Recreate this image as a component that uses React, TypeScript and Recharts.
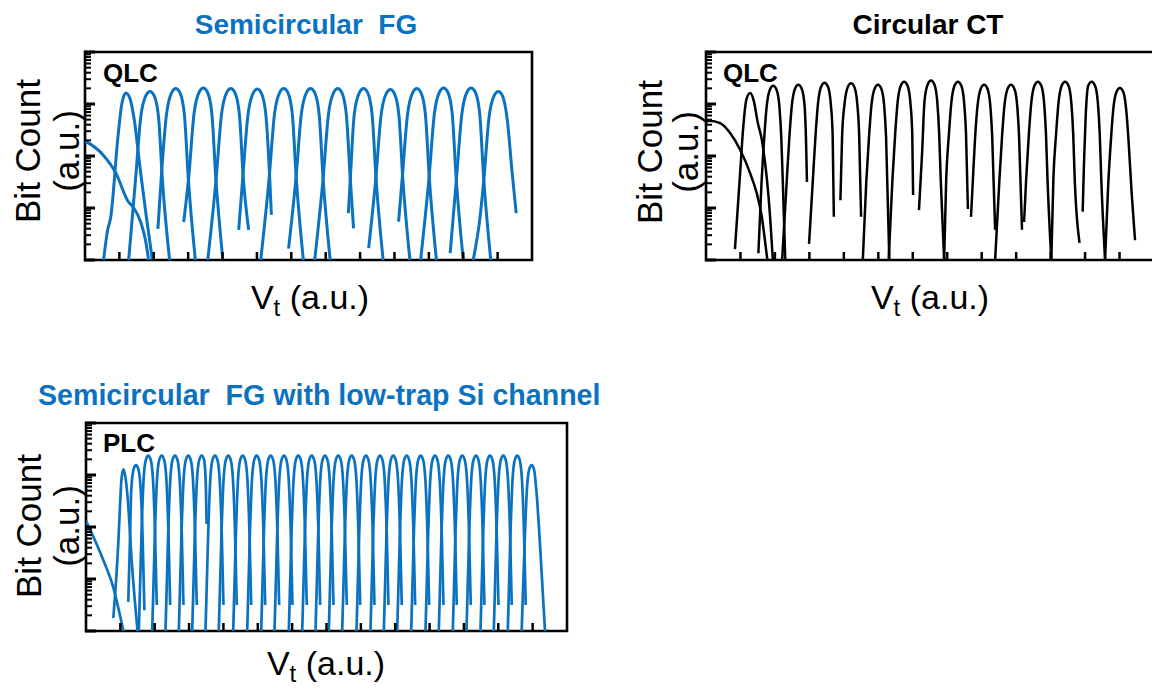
import { LineChart, Line, XAxis, YAxis, ReferenceArea } from 'recharts';

// [Vt in tick units, log10(bit count)]
type Pt = [number, number];

const X_TICKS_QLC = [1, 2, 3, 4, 5, 6, 7, 8, 9, 10, 11, 12];
const X_TICKS_PLC = [1, 2, 3, 4, 5, 6, 7, 8, 9, 10, 11, 12, 13];
const Y_TICKS = [
  1, 2, 3, 4, 5, 6, 7, 8, 9, 10, 20, 30, 40, 50, 60, 70, 80, 90, 100, 200, 300, 400, 500, 600, 700, 800, 900,
  1000, 2000, 3000, 4000, 5000, 6000, 7000, 8000, 9000, 10000,
];
const Y_MAJOR = [1, 10, 100, 1000, 10000];

// Semicircular FG, QLC
const FG_QLC_ERASE: Pt[] = [[0, 2.29], [0.5, 2.04], [0.9, 1.67], [1.25, 1.13], [1.4, 1.02], [1.62, 0.73], [1.76, 0.38], [1.85, 0]];
const FG_QLC_STATES: Pt[][] = [
  [[0.54, 0], [0.66, 0.58], [0.75, 0.83], [0.95, 2.31], [1.07, 3.0], [1.19, 3.21], [1.31, 3.1], [1.42, 2.75], [1.62, 1.67], [1.77, 0.9], [1.96, 0]],
  [[1.27, 0], [1.47, 1.55], [1.62, 2.74], [1.77, 3.16], [1.89, 3.24], [2.01, 3.16], [2.14, 2.74], [2.25, 1.55], [2.46, 0]],
  [[2.12, 0.6], [2.22, 1.61], [2.37, 2.8], [2.52, 3.22], [2.64, 3.3], [2.76, 3.22], [2.89, 2.8], [3.0, 1.61], [3.21, 0]],
  [[2.87, 0.73], [3.02, 1.62], [3.17, 2.81], [3.32, 3.23], [3.44, 3.31], [3.56, 3.23], [3.69, 2.81], [3.8, 1.62], [4.01, 0]],
  [[3.57, 0], [3.82, 1.61], [3.97, 2.8], [4.12, 3.22], [4.24, 3.3], [4.36, 3.22], [4.49, 2.8], [4.6, 1.61], [4.76, 0.58]],
  [[4.47, 0.58], [4.59, 1.6], [4.74, 2.79], [4.89, 3.21], [5.01, 3.29], [5.13, 3.21], [5.26, 2.79], [5.37, 1.6], [5.42, 0.87]],
  [[5.11, 0], [5.36, 1.61], [5.51, 2.8], [5.66, 3.22], [5.78, 3.3], [5.9, 3.22], [6.03, 2.8], [6.14, 1.61], [6.35, 0]],
  [[5.92, 0.22], [6.14, 1.61], [6.29, 2.8], [6.44, 3.22], [6.56, 3.3], [6.68, 3.22], [6.81, 2.8], [6.92, 1.61], [7.13, 0]],
  [[6.68, 0], [6.93, 1.61], [7.08, 2.8], [7.23, 3.22], [7.35, 3.3], [7.47, 3.22], [7.6, 2.8], [7.71, 1.61], [7.81, 0.61]],
  [[7.66, 0.9], [7.72, 1.61], [7.83, 2.8], [7.98, 3.22], [8.1, 3.3], [8.22, 3.22], [8.35, 2.8], [8.46, 1.61], [8.67, 0]],
  [[8.25, 0.23], [8.46, 1.59], [8.61, 2.78], [8.76, 3.2], [8.88, 3.28], [9.0, 3.2], [9.13, 2.78], [9.24, 1.59], [9.45, 0]],
  [[9.12, 0.74], [9.23, 1.61], [9.38, 2.8], [9.53, 3.22], [9.65, 3.3], [9.77, 3.22], [9.9, 2.8], [10.01, 1.61], [10.22, 0]],
  [[9.76, 0], [10.01, 1.62], [10.16, 2.81], [10.31, 3.23], [10.43, 3.31], [10.55, 3.23], [10.68, 2.81], [10.79, 1.62], [11.0, 0]],
  [[10.62, 0.13], [10.81, 1.62], [10.96, 2.81], [11.11, 3.23], [11.23, 3.31], [11.35, 3.23], [11.48, 2.81], [11.59, 1.62], [11.8, 0]],
  [[11.29, 0], [11.49, 0.83], [11.6, 1.55], [11.75, 2.74], [11.9, 3.16], [12.02, 3.24], [12.14, 3.16], [12.28, 2.7], [12.42, 1.7], [12.54, 0.9]],
];

// Circular CT, QLC
const CT_QLC_ERASE: Pt[] = [[0, 2.66], [0.1, 2.68], [0.41, 2.63], [0.7, 2.44], [0.99, 2.12], [1.28, 1.67], [1.47, 1.29], [1.62, 0.83], [1.71, 0.38], [1.78, 0]];
const CT_QLC_STATES: Pt[][] = [
  [[0.84, 0.21], [0.99, 1.67], [1.08, 2.55], [1.17, 3.08], [1.28, 3.21], [1.39, 3.05], [1.5, 2.65], [1.62, 2.31], [1.86, 0.83], [1.94, 0]],
  [[1.52, 0.13], [1.61, 1.47], [1.69, 2.35], [1.76, 2.95], [1.85, 3.27], [1.95, 3.35], [2.05, 3.27], [2.13, 2.95], [2.185, 2.35], [2.23, 1.47], [2.3, 0]],
  [[2.21, 0], [2.34, 1.49], [2.42, 2.37], [2.49, 2.97], [2.58, 3.29], [2.68, 3.37], [2.78, 3.29], [2.86, 2.97], [2.9, 2.37], [2.93, 1.5]],
  [[2.99, 0.31], [3.1, 1.53], [3.18, 2.41], [3.25, 3.01], [3.34, 3.33], [3.44, 3.41], [3.54, 3.33], [3.62, 3.01], [3.675, 2.41], [3.71, 0.83]],
  [[3.9, 1.15], [3.95, 2.4], [4.02, 3.0], [4.11, 3.32], [4.21, 3.4], [4.31, 3.32], [4.39, 3.0], [4.445, 2.4], [4.5, 0.83]],
  [[4.55, 0], [4.65, 1.49], [4.73, 2.37], [4.8, 2.97], [4.89, 3.29], [4.99, 3.37], [5.09, 3.29], [5.17, 2.97], [5.225, 2.37], [5.32, 0]],
  [[5.3, 0], [5.41, 1.55], [5.49, 2.43], [5.56, 3.03], [5.65, 3.35], [5.75, 3.43], [5.85, 3.35], [5.93, 3.03], [5.985, 2.43], [6.01, 1.25]],
  [[6.18, 0.96], [6.27, 2.05], [6.34, 3.05], [6.43, 3.37], [6.53, 3.45], [6.63, 3.37], [6.71, 3.05], [6.765, 2.45], [6.81, 1.57], [6.91, 0]],
  [[6.91, 0], [6.97, 1.55], [7.05, 2.43], [7.12, 3.03], [7.21, 3.35], [7.31, 3.43], [7.41, 3.35], [7.49, 3.03], [7.545, 2.43], [7.6, 0.98]],
  [[7.69, 0.83], [7.74, 1.49], [7.81, 2.37], [7.88, 2.97], [7.97, 3.29], [8.07, 3.37], [8.17, 3.29], [8.25, 2.97], [8.305, 2.37], [8.39, 0.58]],
  [[8.39, 0], [8.51, 1.49], [8.59, 2.37], [8.66, 2.97], [8.75, 3.29], [8.85, 3.37], [8.95, 3.29], [9.03, 2.97], [9.085, 2.37], [9.17, 0.58]],
  [[9.23, 0.73], [9.29, 1.55], [9.37, 2.43], [9.44, 3.03], [9.53, 3.35], [9.63, 3.43], [9.73, 3.35], [9.81, 3.03], [9.865, 2.43], [9.91, 1.55], [10.02, 0]],
  [[10.02, 0], [10.08, 1.55], [10.16, 2.43], [10.23, 3.03], [10.32, 3.35], [10.42, 3.43], [10.52, 3.35], [10.6, 3.03], [10.655, 2.43], [10.7, 1.55], [10.84, 0.33]],
  [[10.93, 0.93], [10.97, 1.9], [11.02, 2.8], [11.09, 3.35], [11.19, 3.43], [11.29, 3.35], [11.37, 3.03], [11.425, 2.43], [11.47, 1.55], [11.58, 0]],
  [[11.58, 0], [11.67, 1.43], [11.75, 2.31], [11.82, 2.91], [11.91, 3.23], [12.01, 3.31], [12.11, 3.23], [12.19, 2.91], [12.26, 2.31], [12.35, 1.3], [12.45, 0.38]],
];

// Semicircular FG with low-trap Si channel, PLC
const FG_PLC_ERASE: Pt[] = [[0, 2.12], [0.5, 1.37], [0.79, 0.85], [1.04, 0.15], [1.09, 0]];
const FG_PLC_STATES: Pt[][] = [
  [[0.795, 0.25], [0.94, 1.69], [0.99, 2.4], [1.03, 2.9], [1.086, 3.11], [1.15, 2.95], [1.22, 2.5], [1.33, 1.35], [1.5, 0]],
  [[1.23, 0.56], [1.28, 1.75], [1.315, 2.69], [1.385, 3.11], [1.455, 3.19], [1.525, 3.11], [1.595, 2.69], [1.65, 1.75], [1.7, 0.4]],
  [[1.537, 0], [1.618, 1.935], [1.673, 2.875], [1.743, 3.295], [1.813, 3.375], [1.883, 3.295], [1.953, 2.875], [2.008, 1.935], [2.06, 0.5]],
  [[1.927, 0], [2.008, 1.935], [2.063, 2.875], [2.133, 3.295], [2.203, 3.375], [2.273, 3.295], [2.343, 2.875], [2.398, 1.935], [2.45, 0.5]],
  [[2.314, 0], [2.395, 1.935], [2.45, 2.875], [2.52, 3.295], [2.59, 3.375], [2.66, 3.295], [2.73, 2.875], [2.785, 1.935], [2.837, 0.5]],
  [[2.701, 0], [2.782, 1.935], [2.837, 2.875], [2.907, 3.295], [2.977, 3.375], [3.047, 3.295], [3.117, 2.875], [3.172, 1.935], [3.224, 0.5]],
  [[3.091, 0], [3.172, 1.935], [3.227, 2.875], [3.297, 3.295], [3.367, 3.375], [3.437, 3.295], [3.49, 2.75], [3.51, 2.06]],
  [[3.478, 0], [3.559, 1.935], [3.614, 2.875], [3.684, 3.295], [3.754, 3.375], [3.824, 3.295], [3.894, 2.875], [3.949, 1.935], [4.001, 0.5]],
  [[3.865, 0], [3.946, 1.935], [4.001, 2.875], [4.071, 3.295], [4.141, 3.375], [4.211, 3.295], [4.281, 2.875], [4.336, 1.935], [4.388, 0.5]],
  [[4.285, 0], [4.366, 1.935], [4.421, 2.875], [4.491, 3.295], [4.561, 3.375], [4.631, 3.295], [4.701, 2.875], [4.756, 1.935], [4.808, 0.5]],
  [[4.692, 0], [4.773, 1.935], [4.828, 2.875], [4.898, 3.295], [4.968, 3.375], [5.038, 3.295], [5.108, 2.875], [5.163, 1.935], [5.215, 0.5]],
  [[5.099, 0], [5.18, 1.935], [5.235, 2.875], [5.305, 3.295], [5.375, 3.375], [5.445, 3.295], [5.515, 2.875], [5.57, 1.935], [5.622, 0.5]],
  [[5.487, 0], [5.568, 1.935], [5.623, 2.875], [5.693, 3.295], [5.763, 3.375], [5.833, 3.295], [5.903, 2.875], [5.958, 1.935], [6.01, 0.5]],
  [[5.903, 0], [5.984, 1.935], [6.039, 2.875], [6.109, 3.295], [6.179, 3.375], [6.249, 3.295], [6.319, 2.875], [6.374, 1.935], [6.426, 0.5]],
  [[6.293, 0], [6.374, 1.935], [6.429, 2.875], [6.499, 3.295], [6.569, 3.375], [6.639, 3.295], [6.709, 2.875], [6.764, 1.935], [6.816, 0.5]],
  [[6.68, 0], [6.761, 1.935], [6.816, 2.875], [6.886, 3.295], [6.956, 3.375], [7.026, 3.295], [7.096, 2.875], [7.151, 1.935], [7.203, 0.5]],
  [[7.067, 0], [7.148, 1.935], [7.203, 2.875], [7.273, 3.295], [7.343, 3.375], [7.413, 3.295], [7.483, 2.875], [7.538, 1.935], [7.59, 0.5]],
  [[7.457, 0], [7.538, 1.935], [7.593, 2.875], [7.663, 3.295], [7.733, 3.375], [7.803, 3.295], [7.873, 2.875], [7.928, 1.935], [7.98, 0.5]],
  [[7.873, 0], [7.954, 1.935], [8.009, 2.875], [8.079, 3.295], [8.149, 3.375], [8.219, 3.295], [8.289, 2.875], [8.344, 1.935], [8.396, 0.5]],
  [[8.28, 0], [8.361, 1.935], [8.416, 2.875], [8.486, 3.295], [8.556, 3.375], [8.626, 3.295], [8.696, 2.875], [8.751, 1.935], [8.803, 0.5]],
  [[8.668, 0], [8.749, 1.935], [8.804, 2.875], [8.874, 3.295], [8.944, 3.375], [9.014, 3.295], [9.084, 2.875], [9.139, 1.935], [9.191, 0.5]],
  [[9.058, 0], [9.139, 1.935], [9.194, 2.875], [9.264, 3.295], [9.334, 3.375], [9.404, 3.295], [9.474, 2.875], [9.529, 1.935], [9.581, 0.5]],
  [[9.465, 0], [9.546, 1.935], [9.601, 2.875], [9.671, 3.295], [9.741, 3.375], [9.811, 3.295], [9.881, 2.875], [9.936, 1.935], [9.988, 0.5]],
  [[9.881, 0], [9.962, 1.935], [10.017, 2.875], [10.087, 3.295], [10.157, 3.375], [10.227, 3.295], [10.297, 2.875], [10.352, 1.935], [10.404, 0.5]],
  [[10.268, 0], [10.349, 1.935], [10.404, 2.875], [10.474, 3.295], [10.544, 3.375], [10.614, 3.295], [10.684, 2.875], [10.739, 1.935], [10.791, 0.5]],
  [[10.676, 0], [10.757, 1.935], [10.812, 2.875], [10.882, 3.295], [10.952, 3.375], [11.022, 3.295], [11.092, 2.875], [11.147, 1.935], [11.199, 0.5]],
  [[11.074, 0], [11.155, 1.935], [11.21, 2.875], [11.28, 3.295], [11.35, 3.375], [11.42, 3.295], [11.49, 2.875], [11.545, 1.935], [11.597, 0.5]],
  [[11.482, 0], [11.563, 1.935], [11.618, 2.875], [11.688, 3.295], [11.758, 3.375], [11.828, 3.295], [11.898, 2.875], [11.953, 1.935], [12.005, 0.5]],
  [[11.869, 0], [11.95, 1.935], [12.005, 2.875], [12.075, 3.295], [12.145, 3.375], [12.215, 3.295], [12.285, 2.875], [12.34, 1.935], [12.392, 0.5]],
  [[12.276, 0], [12.357, 1.935], [12.412, 2.875], [12.482, 3.295], [12.552, 3.375], [12.622, 3.295], [12.692, 2.875], [12.747, 1.935], [12.799, 0.5]],
  [[12.68, 0], [12.77, 1.75], [12.83, 2.69], [12.9, 3.11], [12.971, 3.19], [13.04, 3.11], [13.11, 2.69], [13.22, 1.6], [13.36, 0]],
];

const BLUE = '#0b72c0';
const FONT = "'Liberation Sans', Arial, Helvetica, sans-serif";

const toRows = (pts: Pt[]) => pts.map(([x, d]) => ({ x, y: 10 ** d }));

// inward ticks, drawn from the axis position that recharts hands over
const XTick = (props: any) => {
  const { x, y } = props;
  return <line x1={x} x2={x} y1={y + 1} y2={y - 8} stroke="#000" strokeWidth={2.5} />;
};

const YTick = (props: any) => {
  const { x, y, payload } = props;
  const major = Y_MAJOR.includes(payload.value);
  return <line x1={x - 1} x2={x + (major ? 10 : 6)} y1={y} y2={y} stroke="#000" strokeWidth={major ? 3 : 2} />;
};

type PanelProps = {
  left: number;
  top: number;
  width: number;
  xMax: number;
  xTicks: number[];
  curves: Pt[][];
  color: string;
  lineWidth: number;
};

const Panel = ({ left, top, width, xMax, xTicks, curves, color, lineWidth }: PanelProps) => (
  <div style={{ position: 'absolute', left, top }}>
    <LineChart width={width} height={228} margin={{ top: 10, right: 10, bottom: 9, left: 9 }}>
      <XAxis
        type="number"
        dataKey="x"
        domain={[0, xMax]}
        ticks={xTicks}
        allowDataOverflow
        height={1}
        axisLine={false}
        tickLine={false}
        tickSize={0}
        tickMargin={0}
        interval={0}
        tick={<XTick />}
      />
      <YAxis
        type="number"
        scale="log"
        domain={[1, 10000]}
        ticks={Y_TICKS}
        allowDataOverflow
        width={1}
        axisLine={false}
        tickLine={false}
        tickSize={0}
        tickMargin={0}
        interval={0}
        tick={<YTick />}
      />
      {curves.map((c, i) => (
        <Line
          key={i}
          data={toRows(c)}
          dataKey="y"
          type="monotone"
          stroke={color}
          strokeWidth={lineWidth}
          dot={false}
          activeDot={false}
          isAnimationActive={false}
        />
      ))}
      <ReferenceArea x1={0} x2={xMax} y1={1} y2={10000} fill="none" stroke="#000" strokeWidth={2.6} />
    </LineChart>
  </div>
);

const VtLabel = ({ x, y }: { x: number; y: number }) => (
  <text x={x} y={y} textAnchor="middle" fontSize={34} fill="#000">
    V<tspan fontSize={24} dy={7}>t</tspan>
    <tspan dy={-7}>{'\u00a0(a.u.)'}</tspan>
  </text>
);

const BitCountLabel = ({ x1, x2, y }: { x1: number; x2: number; y: number }) => (
  <g fontSize={35} fill="#000">
    <text transform={`translate(${x1},${y}) rotate(-90)`} textAnchor="middle">Bit Count</text>
    <text transform={`translate(${x2},${y}) rotate(-90)`} textAnchor="middle">(a.u.)</text>
  </g>
);

export default function App() {
  return (
    <div
      style={{
        position: 'absolute',
        left: 0,
        top: 0,
        width: 1152,
        height: 689,
        overflow: 'hidden',
        background: '#fff',
        fontFamily: FONT,
      }}
    >
      <Panel left={75} top={42} width={467} xMax={13} xTicks={X_TICKS_QLC} curves={[FG_QLC_ERASE, ...FG_QLC_STATES]} color={BLUE} lineWidth={3} />
      <Panel left={696} top={42} width={468} xMax={13} xTicks={X_TICKS_QLC} curves={[CT_QLC_ERASE, ...CT_QLC_STATES]} color="#000" lineWidth={2.5} />
      <Panel left={76} top={413} width={501} xMax={14} xTicks={X_TICKS_PLC} curves={[FG_PLC_ERASE, ...FG_PLC_STATES]} color={BLUE} lineWidth={2.7} />

      <svg width={1152} height={689} style={{ position: 'absolute', left: 0, top: 0, pointerEvents: 'none' }} fontFamily={FONT}>
        <text x={306} y={34} textAnchor="middle" fontSize={28} fontWeight="bold" fill={BLUE}>
          {'Semicircular\u00a0\u00a0FG'}
        </text>
        <text x={928} y={34} textAnchor="middle" fontSize={28} fontWeight="bold" fill="#000">
          Circular CT
        </text>
        <text x={38} y={405} fontSize={28.6} fontWeight="bold" fill={BLUE}>
          {'Semicircular\u00a0\u00a0FG with low-trap Si channel'}
        </text>

        <text x={103} y={82} fontSize={26} fontWeight="bold" fill="#000">QLC</text>
        <text x={723} y={82} fontSize={26} fontWeight="bold" fill="#000">QLC</text>
        <text x={103} y={452} fontSize={26} fontWeight="bold" fill="#000">PLC</text>

        <BitCountLabel x1={40} x2={79} y={151} />
        <BitCountLabel x1={662} x2={698} y={152} />
        <BitCountLabel x1={41} x2={79} y={526} />

        <VtLabel x={310} y={309} />
        <VtLabel x={930} y={309} />
        <VtLabel x={326} y={675} />
      </svg>
    </div>
  );
}
